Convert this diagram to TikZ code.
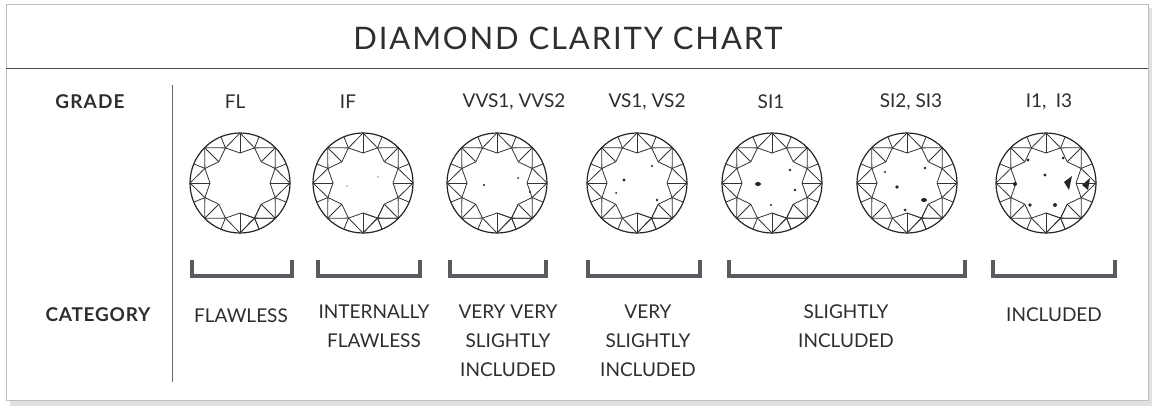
\documentclass[tikz,border=0pt]{standalone}
\usepackage{fontspec}
\setmainfont{Lato}
\definecolor{txt}{HTML}{2E2E2E}
\definecolor{brk}{HTML}{5A5A60}
\tikzset{
 lbl/.style={text=txt,font=\fontsize{19}{29}\selectfont,align=center,inner sep=0},
 hd/.style={text=txt,font=\fontsize{19}{29}\selectfont\addfontfeature{LetterSpace=6},inner sep=0},
 facet/.style={draw=black!80,line width=0.8pt,line join=round},
 brack/.style={draw=brk,line width=4pt},
 flaw/.style={fill=black!85,draw=none}
}
\newcommand{\gem}[2]{%
 \begin{scope}[shift={(#1,183)}]
  \node[circle,minimum size=100pt,draw=black!85,line width=1.2pt,inner sep=0] (#2) at (0,0) {};
  \foreach \a in {90,135,...,450} {
    \draw[facet] (\a:30)--(\a-22.5:38)--(\a-45:30);
    \draw[facet] (\a:50)--(\a-22.5:38)--(\a-45:50);
    \draw[facet] (\a-22.5:38)--(\a-22.5:50);
    \draw[facet] (\a:30)--(\a:50);
  }
 \end{scope}}
\begin{document}
\begin{tikzpicture}[x=1pt,y=-1pt]
\useasboundingbox (0,0) rectangle (1156,416);
\fill[black!12] (10,8) rectangle (1152,406);
\fill[white,draw=black!25] (6,4) rectangle (1148,400);
\node[hd,font=\fontsize{31}{36}\selectfont\addfontfeature{LetterSpace=6}] (title) at (568,38) {DIAMOND CLARITY CHART};
\draw[black!70,line width=1pt] (6,68) -- (1148,68);
\draw[black!60,line width=1pt] (172,85) -- (172,382);
\node[hd,font=\fontsize{19}{29}\selectfont\bfseries\addfontfeature{LetterSpace=6}] (grade) at (90,102) {GRADE};
\node[hd,font=\fontsize{19}{29}\selectfont\bfseries\addfontfeature{LetterSpace=4}] (cat) at (98,315) {CATEGORY};
\node[lbl] (g1) at (235,102) {FL};
\node[lbl] (g2) at (348,102) {IF};
\node[lbl] (g3) at (514,102) {VVS1, VVS2};
\node[lbl] (g4) at (647,102) {VS1, VS2};
\node[lbl] (g5) at (771,102) {SI1};
\node[lbl] (g6) at (911,102) {SI2, SI3};
\node[lbl] (g7) at (1049,102) {I1,\enspace I3};
\gem{240}{d1}\gem{363}{d2}\gem{497}{d3}\gem{637}{d4}\gem{772}{d5}\gem{907}{d6}\gem{1046}{d7}
% inclusions
\fill[black!40] (378,177) circle (0.8) (347,186) circle (0.8) (395,186) circle (0.8);
\fill[flaw] (484,185) circle (1.2) (518,178) circle (1) (530,192) circle (1.1);
\fill[flaw] (624,180) circle (1.6) (652,166) circle (1.1) (657,200) circle (1.3) (616,193) circle (1);
\fill[flaw] (758,184) ellipse (3 and 2) (790,170) circle (1.4) (795,190) circle (1.3) (771,205) circle (1.2);
\fill[flaw] (897,187) circle (1.8) (924,200) ellipse (3 and 2) (925,168) circle (1.4) (905,210) circle (1.5) (885,172) circle (1.2);
\fill[flaw] (1082,185)--(1090,178)--(1088,190)--cycle;
\fill[flaw] (1064,182)--(1072,176)--(1069,190)--cycle;
\fill[flaw] (1015,184) circle (2) (1028,160) circle (1.6) (1063,158) circle (1.5) (1055,205) circle (2) (1030,205) circle (1.8) (1045,175) circle (1.6);
% brackets
\foreach \a/\b/\n in {192/292/b1,318/420/b2,450/546/b3,588/700/b4,729/965/b5,993/1115/b6}
  \draw[brack] (\a,260) -- (\a,276) -- (\b,276) -- (\b,260);
\node[lbl] (c1) at (241,316) {FLAWLESS};
\node[lbl,anchor=north] (c2) at (374,305) {INTERNALLY\\FLAWLESS};
\node[lbl,anchor=north] (c3) at (508,305) {VERY VERY\\SLIGHTLY\\INCLUDED};
\node[lbl,anchor=north] (c4) at (648,305) {VERY\\SLIGHTLY\\INCLUDED};
\node[lbl,anchor=north] (c5) at (846,305) {SLIGHTLY\\INCLUDED};
\node[lbl] (c6) at (1054,315) {INCLUDED};
\end{tikzpicture}
\end{document}
